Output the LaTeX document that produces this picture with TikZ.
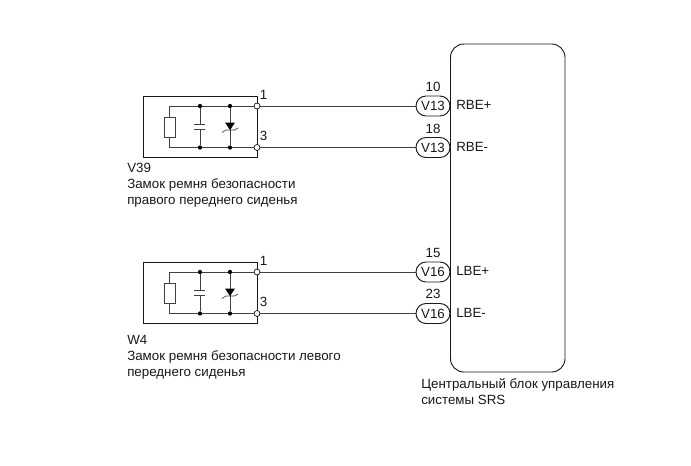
\documentclass[tikz,border=0pt]{standalone}
\usepackage{fontspec}
\setmainfont{Liberation Sans}
\usetikzlibrary{shapes.misc}
\tikzset{
  x=0.75pt,y=-0.75pt,
  wire/.style={draw=black!75,line width=0.5pt},
  boxline/.style={draw=black!90,line width=0.7pt},
  txt/.style={inner sep=0pt,font=\fontsize{10}{12}\selectfont,text=black!90},
  multi/.style={txt,anchor=north west,align=left},
  pin/.style={circle,draw=black,fill=white,line width=0.5pt,inner sep=0pt,minimum size=4.5pt},
  dot/.style={circle,fill=black,inner sep=0pt,minimum size=3.2pt},
  conn/.style={rounded rectangle,boxline,fill=white,inner sep=0pt,minimum width=25.5pt,minimum height=15pt,txt},
}
\newcommand{\sensor}[2]{%
 \begin{scope}[yshift=#1*-0.75pt]
  \draw[boxline] (143,96) rectangle (257,157);
  \coordinate (#2a) at (169,106); \coordinate (#2b) at (169,147.5);
  \node[pin] (#2p1) at (257,106) {};
  \node[pin] (#2p3) at (257,147.5) {};
  \node[dot] (#2d1) at (200,106) {};
  \node[dot] (#2d2) at (230,106) {};
  \node[dot] (#2d3) at (200,147.5) {};
  \node[dot] (#2d4) at (230,147.5) {};
  \draw[wire] (#2a) -- (#2d1) -- (#2d2) -- (#2p1);
  \draw[wire] (#2b) -- (#2d3) -- (#2d4) -- (#2p3);
  \draw[wire] (#2a) -- (169,117) (169,137) -- (#2b);
  \draw[wire] (164,117) rectangle (175,137);
  \draw[wire] (#2d1) -- (200,124) (200,129) -- (#2d3);
  \draw[wire] (194,124) -- (205,124) (194,129) -- (205,129);
  \draw[wire] (#2d2) -- (#2d4);
  \fill[black] (225,122.5) -- (235,122.5) -- (230,130) -- cycle;
  \draw[wire] (222,132.5) -- (226,130) -- (234.5,130) -- (238,128);
  \node[txt] (#2n1) at (263.5,95) {1};
  \node[txt] (#2n3) at (263.5,136) {3};
 \end{scope}}
\begin{document}
\begin{tikzpicture}
\useasboundingbox (0,0) rectangle (691,465);
\fill[white] (0,0) rectangle (691,465);
\sensor{0}{A}
\sensor{166}{B}
\draw[boxline,rounded corners=10pt] (450.5,44) rectangle (565,372);
\node[conn] (c1) at (433,106) {V13};
\node[conn] (c2) at (433,147.5) {V13};
\node[conn] (c3) at (433,272) {V16};
\node[conn] (c4) at (433,313.5) {V16};
\draw[wire] (Ap1) -- (c1);
\draw[wire] (Ap3) -- (c2);
\draw[wire] (Bp1) -- (c3);
\draw[wire] (Bp3) -- (c4);
\node[txt] (n10) at (433,87) {10};
\node[txt] (n18) at (433,128.5) {18};
\node[txt] (n15) at (433,253) {15};
\node[txt] (n23) at (433,293.5) {23};
\node[txt,anchor=west] (l1) at (456,105) {RBE+};
\node[txt,anchor=west] (l2) at (456,147) {RBE-};
\node[txt,anchor=west] (l3) at (456,271) {LBE+};
\node[txt,anchor=west] (l4) at (456,313) {LBE-};
\node[multi] (t1) at (127,163) {V39\\Замок ремня безопасности\\правого переднего сиденья};
\node[multi] (t2) at (127,335) {W4\\Замок ремня безопасности левого\\переднего сиденья};
\node[multi] (t3) at (421,378) {Центральный блок управления\\системы SRS};
\end{tikzpicture}
\end{document}
